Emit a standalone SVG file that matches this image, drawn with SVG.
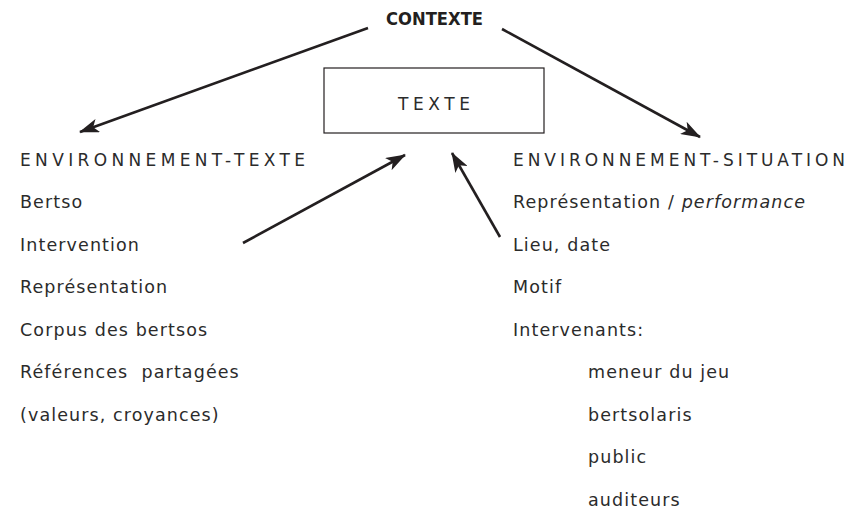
<svg xmlns="http://www.w3.org/2000/svg" width="850" height="526" viewBox="0 0 850 526">
<style>
.t{font-family:"DejaVu Sans","Liberation Sans",sans-serif;font-size:17.5px;letter-spacing:1.1px;fill:#2b2b2b}
.h{font-family:"DejaVu Sans","Liberation Sans",sans-serif;font-size:17px;fill:#2b2b2b}
.c{font-family:"DejaVu Sans Condensed","DejaVu Sans",sans-serif;font-size:17px;font-weight:bold;fill:#231f20}
.ln{stroke:#231f20;stroke-width:2.6;fill:none}
</style>
<defs>
<marker id="ah" viewBox="0 0 20 14" refX="19" refY="7" markerWidth="20" markerHeight="14" markerUnits="userSpaceOnUse" orient="auto">
<path d="M0,0 L20,7 L0,14 L5,7 Z" fill="#231f20"/>
</marker>
</defs>
<rect width="850" height="526" fill="#fff"/>
<g id="contexte"><text class="c" x="434.5" y="25" text-anchor="middle" textLength="97" lengthAdjust="spacingAndGlyphs">CONTEXTE</text></g>
<g id="texte"><rect x="324" y="68" width="220" height="65" fill="none" stroke="#231f20" stroke-width="1.2"/><text class="h" x="398" y="110" textLength="72">TEXTE</text></g>
<g id="env-texte">
<text class="h" x="20" y="166" textLength="285">ENVIRONNEMENT-TEXTE</text>
<text class="t" x="20" y="208">Bertso</text>
<text class="t" x="20" y="251">Intervention</text>
<text class="t" x="20" y="293">Représentation</text>
<text class="t" x="20" y="336">Corpus des bertsos</text>
<text class="t" x="20" y="378" xml:space="preserve">Références  partagées</text>
<text class="t" x="20" y="421">(valeurs, croyances)</text>
</g>
<g id="env-situation">
<text class="h" x="513" y="166" textLength="332">ENVIRONNEMENT-SITUATION</text>
<text class="t" x="513" y="208">Représentation / <tspan font-style="italic">performance</tspan></text>
<text class="t" x="513" y="251">Lieu, date</text>
<text class="t" x="513" y="293">Motif</text>
<text class="t" x="513" y="336">Intervenants:</text>
<text class="t" x="588" y="378">meneur du jeu</text>
<text class="t" x="588" y="421">bertsolaris</text>
<text class="t" x="588" y="463">public</text>
<text class="t" x="588" y="506">auditeurs</text>
</g>
<g id="connectors">
<line class="ln" x1="368" y1="28" x2="80" y2="132" marker-end="url(#ah)"/>
<line class="ln" x1="502" y1="29" x2="700" y2="137" marker-end="url(#ah)"/>
<line class="ln" x1="243" y1="243" x2="405" y2="155" marker-end="url(#ah)"/>
<line class="ln" x1="500" y1="237" x2="452" y2="153" marker-end="url(#ah)"/>
</g>
</svg>
